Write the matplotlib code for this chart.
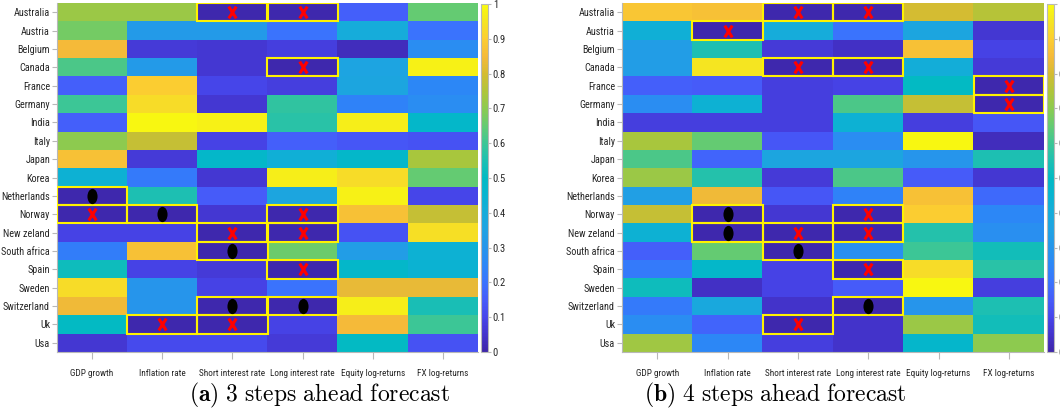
import os
import numpy as np
import matplotlib
matplotlib.use("Agg")
import matplotlib.pyplot as plt
from matplotlib import font_manager as fm
from matplotlib.colors import LinearSegmentedColormap
from matplotlib.patches import Rectangle
from matplotlib.path import Path
from matplotlib.transforms import Affine2D

# ---------------- data ----------------
countries = ["Australia", "Austria", "Belgium", "Canada", "France", "Germany", "India",
             "Italy", "Japan", "Korea", "Netherlands", "Norway", "New zeland",
             "South africa", "Spain", "Sweden", "Switzerland", "Uk", "Usa"]
variables = ["GDP growth", "Inflation rate", "Short interest rate",
             "Long interest rate", "Equity log-returns", "FX log-returns"]

values_3 = [
    [0.72, 0.72, 0.01, 0.01, 0.16, 0.65],
    [0.67, 0.32, 0.32, 0.20, 0.40, 0.20],
    [0.85, 0.07, 0.06, 0.08, 0.03, 0.27],
    [0.62, 0.32, 0.06, 0.01, 0.36, 0.98],
    [0.16, 0.90, 0.10, 0.08, 0.37, 0.25],
    [0.60, 0.93, 0.06, 0.58, 0.24, 0.27],
    [0.16, 0.99, 0.98, 0.57, 0.97, 0.48],
    [0.70, 0.78, 0.09, 0.16, 0.14, 0.13],
    [0.87, 0.07, 0.48, 0.42, 0.48, 0.74],
    [0.43, 0.22, 0.06, 0.97, 0.93, 0.65],
    [0.01, 0.55, 0.15, 0.37, 0.98, 0.10],
    [0.01, 0.01, 0.06, 0.01, 0.87, 0.78],
    [0.09, 0.09, 0.01, 0.01, 0.13, 0.94],
    [0.23, 0.87, 0.01, 0.66, 0.33, 0.43],
    [0.52, 0.09, 0.07, 0.01, 0.48, 0.44],
    [0.93, 0.30, 0.09, 0.20, 0.83, 0.83],
    [0.84, 0.30, 0.01, 0.01, 0.97, 0.54],
    [0.50, 0.01, 0.01, 0.09, 0.85, 0.60],
    [0.06, 0.11, 0.11, 0.07, 0.50, 0.13],
]

values_4 = [
    [0.88, 0.87, 0.01, 0.01, 0.80, 0.76],
    [0.42, 0.01, 0.40, 0.20, 0.37, 0.06],
    [0.33, 0.55, 0.07, 0.04, 0.87, 0.09],
    [0.33, 0.95, 0.01, 0.01, 0.41, 0.07],
    [0.16, 0.15, 0.08, 0.09, 0.50, 0.01],
    [0.27, 0.43, 0.08, 0.62, 0.78, 0.01],
    [0.08, 0.08, 0.08, 0.43, 0.08, 0.14],
    [0.74, 0.65, 0.14, 0.27, 0.99, 0.03],
    [0.62, 0.17, 0.37, 0.37, 0.30, 0.55],
    [0.72, 0.56, 0.07, 0.62, 0.15, 0.06],
    [0.34, 0.84, 0.14, 0.24, 0.87, 0.18],
    [0.78, 0.01, 0.06, 0.01, 0.90, 0.25],
    [0.43, 0.01, 0.01, 0.01, 0.56, 0.28],
    [0.16, 0.65, 0.01, 0.28, 0.60, 0.53],
    [0.22, 0.48, 0.09, 0.01, 0.93, 0.57],
    [0.52, 0.04, 0.09, 0.15, 0.99, 0.08],
    [0.22, 0.38, 0.05, 0.01, 0.30, 0.55],
    [0.27, 0.17, 0.01, 0.05, 0.72, 0.53],
    [0.73, 0.25, 0.08, 0.05, 0.47, 0.70],
]

crosses_3 = [("Australia", "Short interest rate"), ("Australia", "Long interest rate"),
             ("Canada", "Long interest rate"), ("Norway", "GDP growth"),
             ("Norway", "Long interest rate"), ("New zeland", "Short interest rate"),
             ("New zeland", "Long interest rate"), ("Spain", "Long interest rate"),
             ("Uk", "Inflation rate"), ("Uk", "Short interest rate")]
dots_3 = [("Netherlands", "GDP growth"), ("Norway", "Inflation rate"),
          ("South africa", "Short interest rate"), ("Switzerland", "Short interest rate"),
          ("Switzerland", "Long interest rate")]

crosses_4 = [("Australia", "Short interest rate"), ("Australia", "Long interest rate"),
             ("Austria", "Inflation rate"), ("Canada", "Short interest rate"),
             ("Canada", "Long interest rate"), ("France", "FX log-returns"),
             ("Germany", "FX log-returns"), ("Norway", "Long interest rate"),
             ("New zeland", "Short interest rate"), ("New zeland", "Long interest rate"),
             ("Spain", "Long interest rate"), ("Uk", "Short interest rate")]
dots_4 = [("Norway", "Inflation rate"), ("New zeland", "Inflation rate"),
          ("South africa", "Short interest rate"), ("Switzerland", "Long interest rate")]

captions = [r"$\mathbf{(a)}\ \mathrm{3\ steps\ ahead\ forecast}$",
            r"$\mathbf{(b)}\ \mathrm{4\ steps\ ahead\ forecast}$"]

# ---------------- fonts ----------------
plt.rcParams["font.family"] = ["Liberation Sans", "DejaVu Sans"]
plt.rcParams["mathtext.fontset"] = "cm"


def find_condensed():
    best = None
    for f in fm.fontManager.ttflist:
        nm = f.name.lower()
        fn = os.path.basename(f.fname).lower()
        tag = nm + " " + fn
        if any(b in fn for b in ("mono", "bold", "italic", "oblique", "light", "thin",
                                 "black", "medium", "semibold", "extrabold")):
            continue
        if "serif" in fn and "sans" not in fn:
            continue
        if "mono" in nm:
            continue
        cond = ("narrow" in tag or "condensed" in tag or "cond" in fn
                or str(f.stretch) in ("condensed", "semi-condensed", "extra-condensed"))
        if not cond:
            continue
        rank = 5
        if "liberation" in tag:
            rank = 0
        elif "roboto" in tag:
            rank = 1
        elif "noto" in tag:
            rank = 2
        elif "open" in tag:
            rank = 3
        elif "dejavu" in tag:
            rank = 4
        if best is None or rank < best[0]:
            best = (rank, f.fname)
    return best[1] if best else None


cond_file = find_condensed()
if cond_file:
    tick_fp = fm.FontProperties(fname=cond_file)
    size_scale = 1.0
else:
    tick_fp = fm.FontProperties(family="Liberation Sans")
    size_scale = 0.84

# ---------------- colormap (parula-like) ----------------
parula_pts = [
    (0.00, (62, 38, 168)), (0.05, (68, 52, 205)), (0.10, (71, 70, 235)),
    (0.15, (70, 92, 250)), (0.20, (58, 115, 253)), (0.25, (45, 135, 247)),
    (0.30, (38, 150, 235)), (0.35, (32, 162, 227)), (0.40, (22, 172, 218)),
    (0.45, (8, 180, 208)), (0.50, (2, 186, 196)), (0.55, (30, 192, 178)),
    (0.60, (60, 198, 150)), (0.65, (100, 203, 115)), (0.70, (140, 203, 80)),
    (0.75, (175, 197, 58)), (0.80, (212, 188, 50)), (0.85, (245, 186, 58)),
    (0.90, (252, 205, 50)), (0.95, (245, 228, 35)), (1.00, (249, 251, 14)),
]
cmap = LinearSegmentedColormap.from_list(
    "parula", [(p, tuple(c / 255 for c in rgb)) for p, rgb in parula_pts], N=256)

cross_marker = Path([(-0.32, -0.5), (0.32, 0.5), (-0.32, 0.5), (0.32, -0.5)],
                    [Path.MOVETO, Path.LINETO, Path.MOVETO, Path.LINETO])
dot_marker = Path.unit_circle().transformed(Affine2D().scale(0.66, 1.0))

fig = plt.figure(figsize=(10.6, 4.08), dpi=100)

W, H = 1060, 408


def rect(x0, x1, y0, y1):
    return [x0 / W, 1 - y1 / H, (x1 - x0) / W, (y1 - y0) / H]


panels = [
    (values_3, crosses_3, dots_3, rect(57, 478, 3, 352), rect(481, 488, 4, 352), 319),
    (values_4, crosses_4, dots_4, rect(622, 1044, 3, 352), rect(1047, 1054, 4, 352), 775),
]

grey = "0.72"
for k, (vals, crosses, dots, axr, caxr, capx) in enumerate(panels):
    ax = fig.add_axes(axr)
    data = np.array(vals)
    im = ax.imshow(data, cmap=cmap, vmin=0, vmax=1, aspect="auto",
                   interpolation="nearest")
    ax.set_xticks(range(len(variables)))
    ax.set_xticklabels(variables)
    ax.set_yticks(range(len(countries)))
    ax.set_yticklabels(countries)
    ax.tick_params(axis="x", length=5, width=0.8, color=grey,
                   labelcolor="0.15", pad=7.5)
    ax.tick_params(axis="y", length=3.5, width=0.8, color=grey,
                   labelcolor="0.15", pad=1.5)
    for lab in ax.get_xticklabels():
        lab.set_fontproperties(tick_fp)
        lab.set_fontsize(6.7 * size_scale)
    for lab in ax.get_yticklabels():
        lab.set_fontproperties(tick_fp)
        lab.set_fontsize(7.3 * size_scale)
    for s in ["top", "right"]:
        ax.spines[s].set_visible(False)
    for s in ["left", "bottom"]:
        ax.spines[s].set_color(grey)
        ax.spines[s].set_linewidth(0.8)

    cells = [(countries.index(c), variables.index(v), "x") for c, v in crosses] + \
            [(countries.index(c), variables.index(v), "o") for c, v in dots]
    for r, c, kind in cells:
        ax.add_patch(Rectangle((c - 0.5, r - 0.5), 1, 1, fill=False,
                               edgecolor="#FFF200", linewidth=1.5, zorder=3))
    for r, c, kind in cells:
        if kind == "x":
            ax.plot(c, r, marker=cross_marker, markersize=8.5, markeredgewidth=2.2,
                    color="#FF0000", linestyle="none", zorder=4)
        else:
            ax.plot(c, r, marker=dot_marker, markersize=11, markeredgewidth=0,
                    color="black", linestyle="none", zorder=4)
    ax.set_xlim(-0.5, len(variables) - 0.5)
    ax.set_ylim(len(countries) - 0.5, -0.5)

    cax = fig.add_axes(caxr)
    cb = fig.colorbar(im, cax=cax, ticks=np.round(np.arange(0, 1.01, 0.1), 1))
    cb.ax.set_yticklabels(["0"] + [f"{t:.1f}" for t in np.arange(0.1, 0.95, 0.1)] + ["1"])
    cb.ax.tick_params(length=2, width=0.8, color=grey,
                      labelcolor="0.15", pad=1.5)
    for lab in cb.ax.get_yticklabels():
        lab.set_fontproperties(tick_fp)
        lab.set_fontsize(7.6 * size_scale)
    cb.outline.set_edgecolor(grey)
    cb.outline.set_linewidth(0.8)

    fig.text(capx / W, 1 - 395 / H, captions[k], ha="center", va="center",
             fontsize=17)

fig.savefig("out.png", dpi=100)
